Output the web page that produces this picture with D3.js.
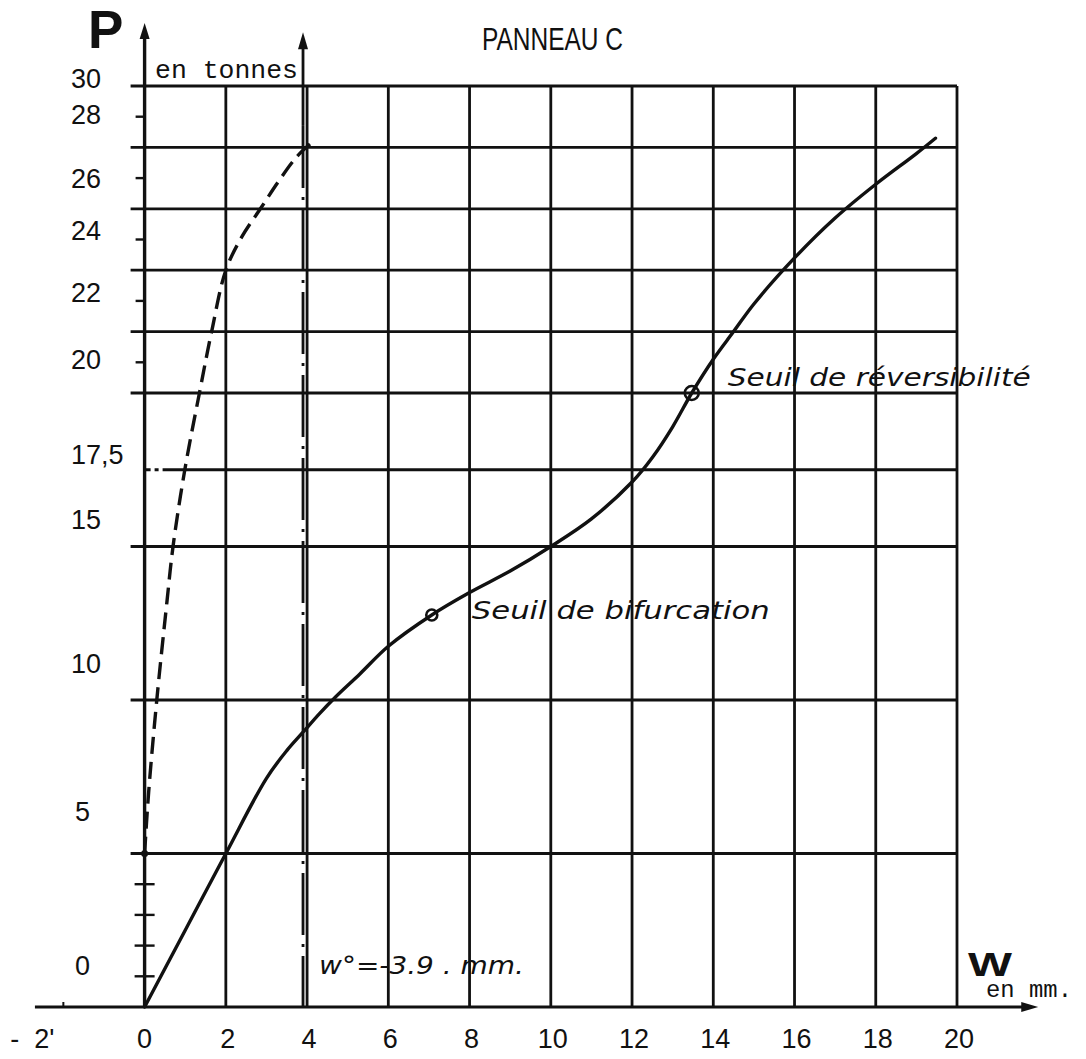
<!DOCTYPE html>
<html>
<head>
<meta charset="utf-8">
<script src="https://cdn.jsdelivr.net/npm/d3@7"></script>
<style>
  html, body { margin: 0; padding: 0; background: #ffffff; }
  svg { display: block; }
  text { white-space: pre; }
</style>
</head>
<body>
<div id="chart"></div>
<script>
// ---------------- data ----------------
const xGridValues = [0, 2, 4, 6, 8, 10, 12, 14, 16, 18, 20];
const xTickLabels = ["0", "2", "4", "6", "8", "10", "12", "14", "16", "18", "20"];
const yGridValues = [5, 10, 15, 17.5, 20, 22, 24, 26, 28, 30];
const yTickLabels = ["0", "5", "10", "15", "17,5", "20", "22", "24", "26", "28", "30"];
const yTickValues = [0, 5, 10, 15, 17.5, 20, 22, 24, 26, 28, 30];
// height (in tonnes) at which each typed label sits on the sheet
const yTickTypedAt = [1.37, 6.4, 11.2, 15.9, 18.0, 21.1, 23.3, 25.3, 27.0, 29.1, 30.26];
const yMinorLeft = [21, 23, 25, 27, 29];
const yMinorCross = [1, 2, 3, 4];

// solid curve : P (t) versus W (mm)
const solidW = [0, 1, 2, 3, 3.5, 3.9, 4.3, 4.7, 5.3, 6, 7.07, 8, 9, 10, 11, 12, 12.5, 13, 13.47, 14, 14.5, 15, 16, 17, 18, 19, 19.47];
const solidP = [0, 2.5, 5, 7.45, 8.35, 8.95, 9.55, 10.1, 10.85, 11.75, 12.77, 13.5, 14.2, 15.0, 15.9, 17.1, 17.9, 18.9, 20.0, 21.1, 22.0, 22.9, 24.4, 25.7, 26.8, 27.8, 28.3];

// dashed curve
const dashedW = [0, 0.1, 0.3, 0.55, 0.7, 0.99, 1.35, 1.65, 2.0, 2.4, 2.85, 3.3, 3.75, 4.15];
const dashedP = [5, 7, 10, 13.2, 15, 17.5, 20, 22, 24, 25.1, 26, 26.9, 27.7, 28.2];

// marked points
const markerNames = ["Seuil de bifurcation", "Seuil de réversibilité"];
const markerW = [7.07, 13.47];
const markerP = [12.77, 20.0];

const w0Value = 3.9;
const w0Label = "w°=-3.9 . mm.";
const title = "PANNEAU C";

// ---------------- drawing ----------------
const W = 1086, H = 1059;
const svg = d3.select("#chart").append("svg")
  .attr("width", W).attr("height", H)
  .attr("viewBox", `0 0 ${W} ${H}`);
svg.append("rect").attr("width", W).attr("height", H).attr("fill", "#fff");

const x = d3.scaleLinear().domain([0, 20]).range([144.6, 957]);
const y = d3.scaleLinear().domain([0, 30]).range([1007, 86]);

const ink = "#111";
const gridW = 2.8;

// horizontal grid lines
const g = svg.append("g");
g.selectAll("line.h").data(yGridValues).enter().append("line")
  .attr("class", "h")
  .attr("x1", d => d === 17.5 ? x(0) + 18 : x(0) - 14)
  .attr("x2", x(20))
  .attr("y1", d => y(d)).attr("y2", d => y(d))
  .attr("stroke", ink).attr("stroke-width", gridW);
// small dashed lead-in of the 17,5 line
g.append("line")
  .attr("x1", x(0)).attr("x2", x(0) + 14)
  .attr("y1", y(17.5)).attr("y2", y(17.5))
  .attr("stroke", ink).attr("stroke-width", gridW)
  .attr("stroke-dasharray", "6,4");

// vertical grid lines
g.selectAll("line.v").data(xGridValues.filter(d => d > 0)).enter().append("line")
  .attr("class", "v")
  .attr("x1", d => x(d)).attr("x2", d => x(d))
  .attr("y1", y(30)).attr("y2", y(0))
  .attr("stroke", ink).attr("stroke-width", gridW);

// minor ticks on P axis
g.selectAll("line.ml").data(yMinorLeft).enter().append("line")
  .attr("x1", x(0) - 9).attr("x2", x(0))
  .attr("y1", d => y(d)).attr("y2", d => y(d))
  .attr("stroke", ink).attr("stroke-width", 2.4);
g.selectAll("line.mc").data(yMinorCross).enter().append("line")
  .attr("x1", x(0) - 10).attr("x2", x(0) + 10)
  .attr("y1", d => y(d)).attr("y2", d => y(d))
  .attr("stroke", ink).attr("stroke-width", 2.4);
// dot where dashed curve leaves the axis
g.append("circle").attr("cx", x(0)).attr("cy", y(5)).attr("r", 3.5).attr("fill", ink);

// x axis (W) with arrow
const xAxisLeft = -2.7, xAxisRight = 22.0;
svg.append("line")
  .attr("x1", x(xAxisLeft)).attr("x2", x(xAxisRight) - 12)
  .attr("y1", y(0)).attr("y2", y(0))
  .attr("stroke", ink).attr("stroke-width", 3.2);
svg.append("path")
  .attr("d", `M${x(xAxisRight)},${y(0)} L${x(xAxisRight) - 17},${y(0) - 5} L${x(xAxisRight) - 17},${y(0) + 5} Z`)
  .attr("fill", ink);
// small tick at -2
svg.append("line")
  .attr("x1", x(-2)).attr("x2", x(-2))
  .attr("y1", y(0) - 5).attr("y2", y(0))
  .attr("stroke", ink).attr("stroke-width", 2);

// P axis with arrow
const yAxisTop = 32.05;
svg.append("line")
  .attr("x1", x(0)).attr("x2", x(0))
  .attr("y1", y(0)).attr("y2", y(yAxisTop) + 10)
  .attr("stroke", ink).attr("stroke-width", 3.4);
svg.append("path")
  .attr("d", `M${x(0)},${y(yAxisTop)} L${x(0) - 5},${y(yAxisTop) + 16} L${x(0) + 5},${y(yAxisTop) + 16} Z`)
  .attr("fill", ink);

// w° dash-dot line with arrow
const w0Top = 31.75;
svg.append("line")
  .attr("x1", x(w0Value)).attr("x2", x(w0Value))
  .attr("y1", y(w0Top) + 12).attr("y2", y(28.7))
  .attr("stroke", ink).attr("stroke-width", 2.8);
svg.append("line")
  .attr("x1", x(w0Value)).attr("x2", x(w0Value))
  .attr("y1", y(28.7)).attr("y2", y(0))
  .attr("stroke", ink).attr("stroke-width", 2.8)
  .attr("stroke-dasharray", "62,9,3,9");
svg.append("path")
  .attr("d", `M${x(w0Value)},${y(w0Top)} L${x(w0Value) - 5},${y(w0Top) + 17} L${x(w0Value) + 5},${y(w0Top) + 17} Z`)
  .attr("fill", ink);

// curves
const line = d3.line().x(d => x(d[0])).y(d => y(d[1])).curve(d3.curveCatmullRom.alpha(0.5));
svg.append("path")
  .datum(solidW.map((w, i) => [w, solidP[i]]))
  .attr("d", line)
  .attr("fill", "none").attr("stroke", ink).attr("stroke-width", 3.4)
  .attr("stroke-linecap", "round");
svg.append("path")
  .datum(dashedW.map((w, i) => [w, dashedP[i]]))
  .attr("d", line)
  .attr("fill", "none").attr("stroke", ink).attr("stroke-width", 3.4)
  .attr("stroke-dasharray", "17,8");

// markers
const markerR = [5.5, 7];
svg.selectAll("circle.mk").data(markerW).enter().append("circle")
  .attr("cx", (d) => x(d)).attr("cy", (d, i) => y(markerP[i]))
  .attr("r", (d, i) => markerR[i])
  .attr("fill", "none").attr("stroke", ink).attr("stroke-width", 2.6);

// annotation texts
const handFont = "'DejaVu Sans', 'Liberation Sans', sans-serif";
const annot = [
  { text: markerNames[0], dx: 40, dy: 4, len: 298 },
  { text: markerNames[1], dx: 36, dy: -7, len: 303 }
];
svg.selectAll("text.an").data(annot).enter().append("text")
  .attr("x", (d, i) => x(markerW[i]) + d.dx)
  .attr("y", (d, i) => y(markerP[i]) + d.dy)
  .attr("font-family", handFont).attr("font-style", "italic")
  .attr("font-size", 24).attr("fill", ink)
  .attr("textLength", d => d.len).attr("lengthAdjust", "spacingAndGlyphs")
  .text(d => d.text);

svg.append("text")
  .attr("x", x(w0Value) + 16).attr("y", y(0) - 33)
  .attr("font-family", handFont).attr("font-style", "italic")
  .attr("font-size", 24).attr("fill", ink)
  .attr("textLength", 205).attr("lengthAdjust", "spacingAndGlyphs")
  .text(w0Label);

// tick labels
const labFont = "'Liberation Sans', Arial, sans-serif";
svg.selectAll("text.xl").data(xGridValues).enter().append("text")
  .attr("x", d => x(d) + (d === 0 ? 0 : 2))
  .attr("y", y(0) + 41)
  .attr("text-anchor", "middle")
  .attr("font-family", labFont).attr("font-size", 27).attr("fill", ink)
  .text((d, i) => xTickLabels[i]);
svg.append("text")
  .attr("x", x(-2) - 53).attr("y", y(0) + 41)
  .attr("font-family", labFont).attr("font-size", 27).attr("fill", ink)
  .text("-  2'");

svg.selectAll("text.yl").data(yTickValues).enter().append("text")
  .attr("x", (d, i) => yTickLabels[i].length === 1 ? 75 : 71)
  .attr("y", (d, i) => y(yTickTypedAt[i]) + 10)
  .attr("font-family", labFont).attr("font-size", 27).attr("fill", ink)
  .text((d, i) => yTickLabels[i]);

// axis names and title
svg.append("text").attr("x", 88).attr("y", 48)
  .attr("font-family", labFont).attr("font-weight", "bold").attr("font-size", 53)
  .attr("fill", ink).text("P");
svg.append("text").attr("x", 155).attr("y", 78)
  .attr("font-family", "'Liberation Mono', 'DejaVu Sans Mono', monospace").attr("font-size", 25)
  .attr("textLength", 143).attr("lengthAdjust", "spacingAndGlyphs")
  .attr("fill", ink).text("en tonnes");
svg.append("text").attr("x", 968).attr("y", 976)
  .attr("font-family", labFont).attr("font-weight", "bold").attr("font-size", 33)
  .attr("textLength", 44).attr("lengthAdjust", "spacingAndGlyphs")
  .attr("fill", ink).text("W");
svg.append("text").attr("x", 986).attr("y", 997)
  .attr("font-family", "'Liberation Mono', 'DejaVu Sans Mono', monospace").attr("font-size", 23)
  .attr("textLength", 86).attr("lengthAdjust", "spacingAndGlyphs")
  .attr("fill", ink).text("en mm.");
svg.append("text").attr("x", 482).attr("y", 50)
  .attr("font-family", labFont).attr("font-size", 31)
  .attr("textLength", 141).attr("lengthAdjust", "spacingAndGlyphs")
  .attr("fill", ink).text(title);
</script>
</body>
</html>
